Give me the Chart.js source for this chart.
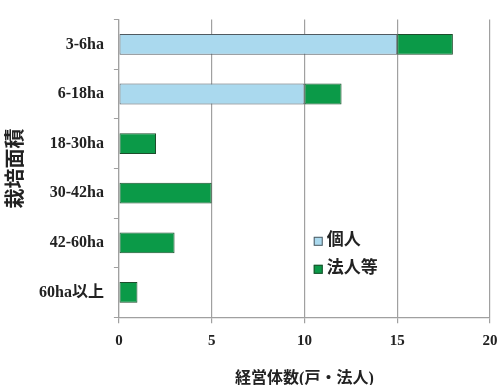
<!DOCTYPE html>
<html>
<head>
<meta charset="utf-8">
<script src="https://cdn.jsdelivr.net/npm/chart.js@4/dist/chart.umd.min.js"></script>
<style>
  html, body { margin: 0; padding: 0; background: #fff; }
  #wrap { width: 499px; height: 385px; }
</style>
</head>
<body>
<div id="wrap"><canvas id="chartArea" width="499" height="385"></canvas></div>
<script>
const categories = ['3-6ha', '6-18ha', '18-30ha', '30-42ha', '42-60ha', '60ha以上'];
const kojin = [15, 10, 0, 0, 0, 0];
const houjin = [3, 2, 2, 5, 3, 1];
const xTicks = [0, 5, 10, 15, 20];
const seriesNames = ['個人', '法人等'];

const fontFam = '"Liberation Serif", "Noto Sans CJK JP", serif';
const gridGray = '#a0a0a0';

// legend drawn inside the plot area, like the original
const innerLegend = {
    id: 'innerLegend',
    afterDraw(chart) {
        const ctx = chart.ctx;
        const x0 = chart.scales.x.getPixelForValue(10.5);
        let y = chart.scales.y.getPixelForValue(4) - 2;
        ctx.save();
        ctx.font = 'bold 17px ' + fontFam;
        ctx.textBaseline = 'middle';
        chart.data.datasets.forEach(ds => {
            ctx.fillStyle = ds.backgroundColor;
            ctx.strokeStyle = ds.borderColor;
            ctx.lineWidth = 1;
            ctx.fillRect(x0, y - 4, 9, 9);
            ctx.strokeRect(x0 + 0.5, y - 3.5, 8, 8);
            ctx.fillStyle = '#222';
            ctx.fillText(ds.label, x0 + 13, y);
            y += 28;
        });
        ctx.restore();
    }
};

const context = document.getElementById('chartArea').getContext('2d');

const chartMenseki = new Chart(context, {
    type: 'bar',
    data: {
        labels: categories,
        datasets: [
            {
                label: seriesNames[0],
                data: kojin,
                backgroundColor: '#aad9ee',
                borderColor: '#505a60',
                borderWidth: 1,
                borderSkipped: false
            },
            {
                label: seriesNames[1],
                data: houjin,
                backgroundColor: '#0b9a48',
                borderColor: '#1d4d2c',
                borderWidth: 1,
                borderSkipped: false
            }
        ]
    },
    options: {
        indexAxis: 'y',
        responsive: false,
        animation: false,
        layout: { padding: { top: 13, right: 0, left: 5, bottom: 0 } },
        datasets: { bar: { categoryPercentage: 1, barPercentage: 0.42 } },
        plugins: {
            legend: { display: false },
            tooltip: { enabled: false }
        },
        scales: {
            x: {
                stacked: true,
                min: 0,
                max: 20,
                afterBuildTicks: axis => { axis.ticks = xTicks.map(v => ({ value: v })); },
                afterFit: axis => { axis.paddingRight = 9; },
                grid: { color: gridGray, lineWidth: 1.2, tickLength: 6, drawTicks: true },
                border: { color: gridGray, width: 1.2 },
                ticks: { color: '#222', font: { family: fontFam, size: 15, weight: 'bold' }, padding: 9 },
                title: {
                    display: true,
                    text: '経営体数(戸・法人)',
                    color: '#222',
                    font: { family: fontFam, size: 16, weight: 'bold', lineHeight: 0.8 },
                    padding: { top: 13, bottom: 0 }
                }
            },
            y: {
                stacked: true,
                grid: { offset: true, drawOnChartArea: false, color: gridGray, tickLength: 5 },
                border: { color: gridGray, width: 1.2 },
                ticks: { color: '#222', font: { family: fontFam, size: 16, weight: 'bold' }, padding: 10 },
                title: {
                    display: true,
                    text: '栽培面積',
                    color: '#222',
                    font: { family: fontFam, size: 20, weight: 'bold' },
                    padding: { top: 0, bottom: 0 }
                }
            }
        }
    },
    plugins: [innerLegend]
});
</script>
</body>
</html>
